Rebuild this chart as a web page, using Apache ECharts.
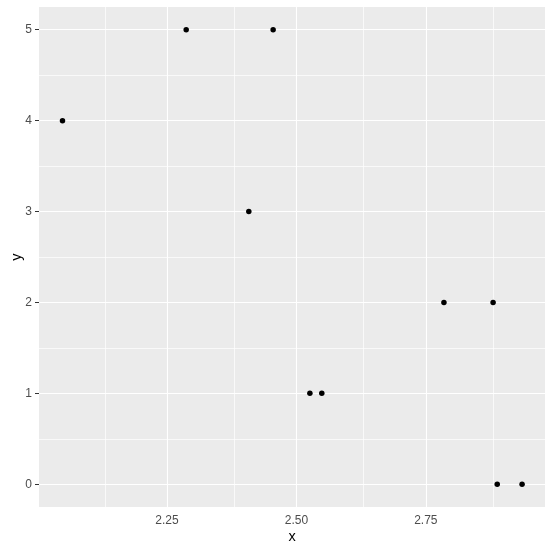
<!DOCTYPE html>
<html>
<head>
<meta charset="utf-8">
<script src="https://cdn.jsdelivr.net/npm/echarts@6/dist/echarts.min.js"></script>
<style>html,body{margin:0;padding:0;background:#fff}#c{width:553px;height:552px}</style>
</head>
<body>
<div id="c"></div>
<script>
var xValues = [2.048, 2.287, 2.455, 2.408, 2.526, 2.549, 2.785, 2.880, 2.888, 2.936];
var yValues = [4, 5, 5, 3, 1, 1, 2, 2, 0, 0];
var xTicks = [2.25, 2.5, 2.75];
var xMinor = [2.125, 2.375, 2.625, 2.875];
var yTicks = [0, 1, 2, 3, 4, 5];
var yMinor = [0.5, 1.5, 2.5, 3.5, 4.5];

var xMin = 2.0026, xMax = 2.9803;
var yMin = -0.25, yMax = 5.25;

var points = xValues.map(function (x, i) { return [x, yValues[i]]; });

var gridLines = [];
xTicks.forEach(function (v) { gridLines.push({ xAxis: v, lineStyle: { width: 1.1 } }); });
xMinor.forEach(function (v) { gridLines.push({ xAxis: v, lineStyle: { width: 0.7 } }); });
yTicks.forEach(function (v) { gridLines.push({ yAxis: v, lineStyle: { width: 1.1 } }); });
yMinor.forEach(function (v) { gridLines.push({ yAxis: v, lineStyle: { width: 0.7 } }); });

var chart = echarts.init(document.getElementById('c'));
var font = 'Liberation Sans, Arial, sans-serif';
chart.setOption({
  animation: false,
  textStyle: { fontFamily: font },
  grid: { left: 39, right: 8, top: 7, bottom: 45, show: true, backgroundColor: '#EBEBEB', borderWidth: 0,
    containLabel: false, outerBoundsMode: 'none' },
  xAxis: {
    type: 'value', min: xMin, max: xMax,
    name: 'x', nameLocation: 'middle', nameGap: 22, nameMoveOverlap: false,
    nameTextStyle: { color: '#000', fontSize: 14.5, fontFamily: font },
    axisLine: { show: false },
    axisTick: { show: true, customValues: xTicks, length: 4, lineStyle: { color: '#333', width: 1 } },
    axisLabel: { customValues: xTicks, color: '#4D4D4D', fontSize: 12, margin: 8, fontFamily: font,
      formatter: function (v) { return v.toFixed(2); } },
    splitLine: { show: false }
  },
  yAxis: {
    type: 'value', min: yMin, max: yMax,
    name: 'y', nameLocation: 'middle', nameGap: 15, nameRotate: 90, nameMoveOverlap: false,
    nameTextStyle: { color: '#000', fontSize: 14.5, fontFamily: font },
    axisLine: { show: false },
    axisTick: { show: true, customValues: yTicks, length: 4, lineStyle: { color: '#333', width: 1 } },
    axisLabel: { customValues: yTicks, color: '#4D4D4D', fontSize: 12, margin: 7, fontFamily: font },
    splitLine: { show: false }
  },
  series: [{
    type: 'scatter',
    data: points,
    symbolSize: 5.5,
    itemStyle: { color: '#000', opacity: 1 },
    markLine: {
      silent: true, symbol: 'none', label: { show: false }, z: 1,
      lineStyle: { color: '#FFFFFF', type: 'solid', opacity: 1 },
      emphasis: { disabled: true },
      data: gridLines
    },
    z: 3
  }]
});
</script>
</body>
</html>
